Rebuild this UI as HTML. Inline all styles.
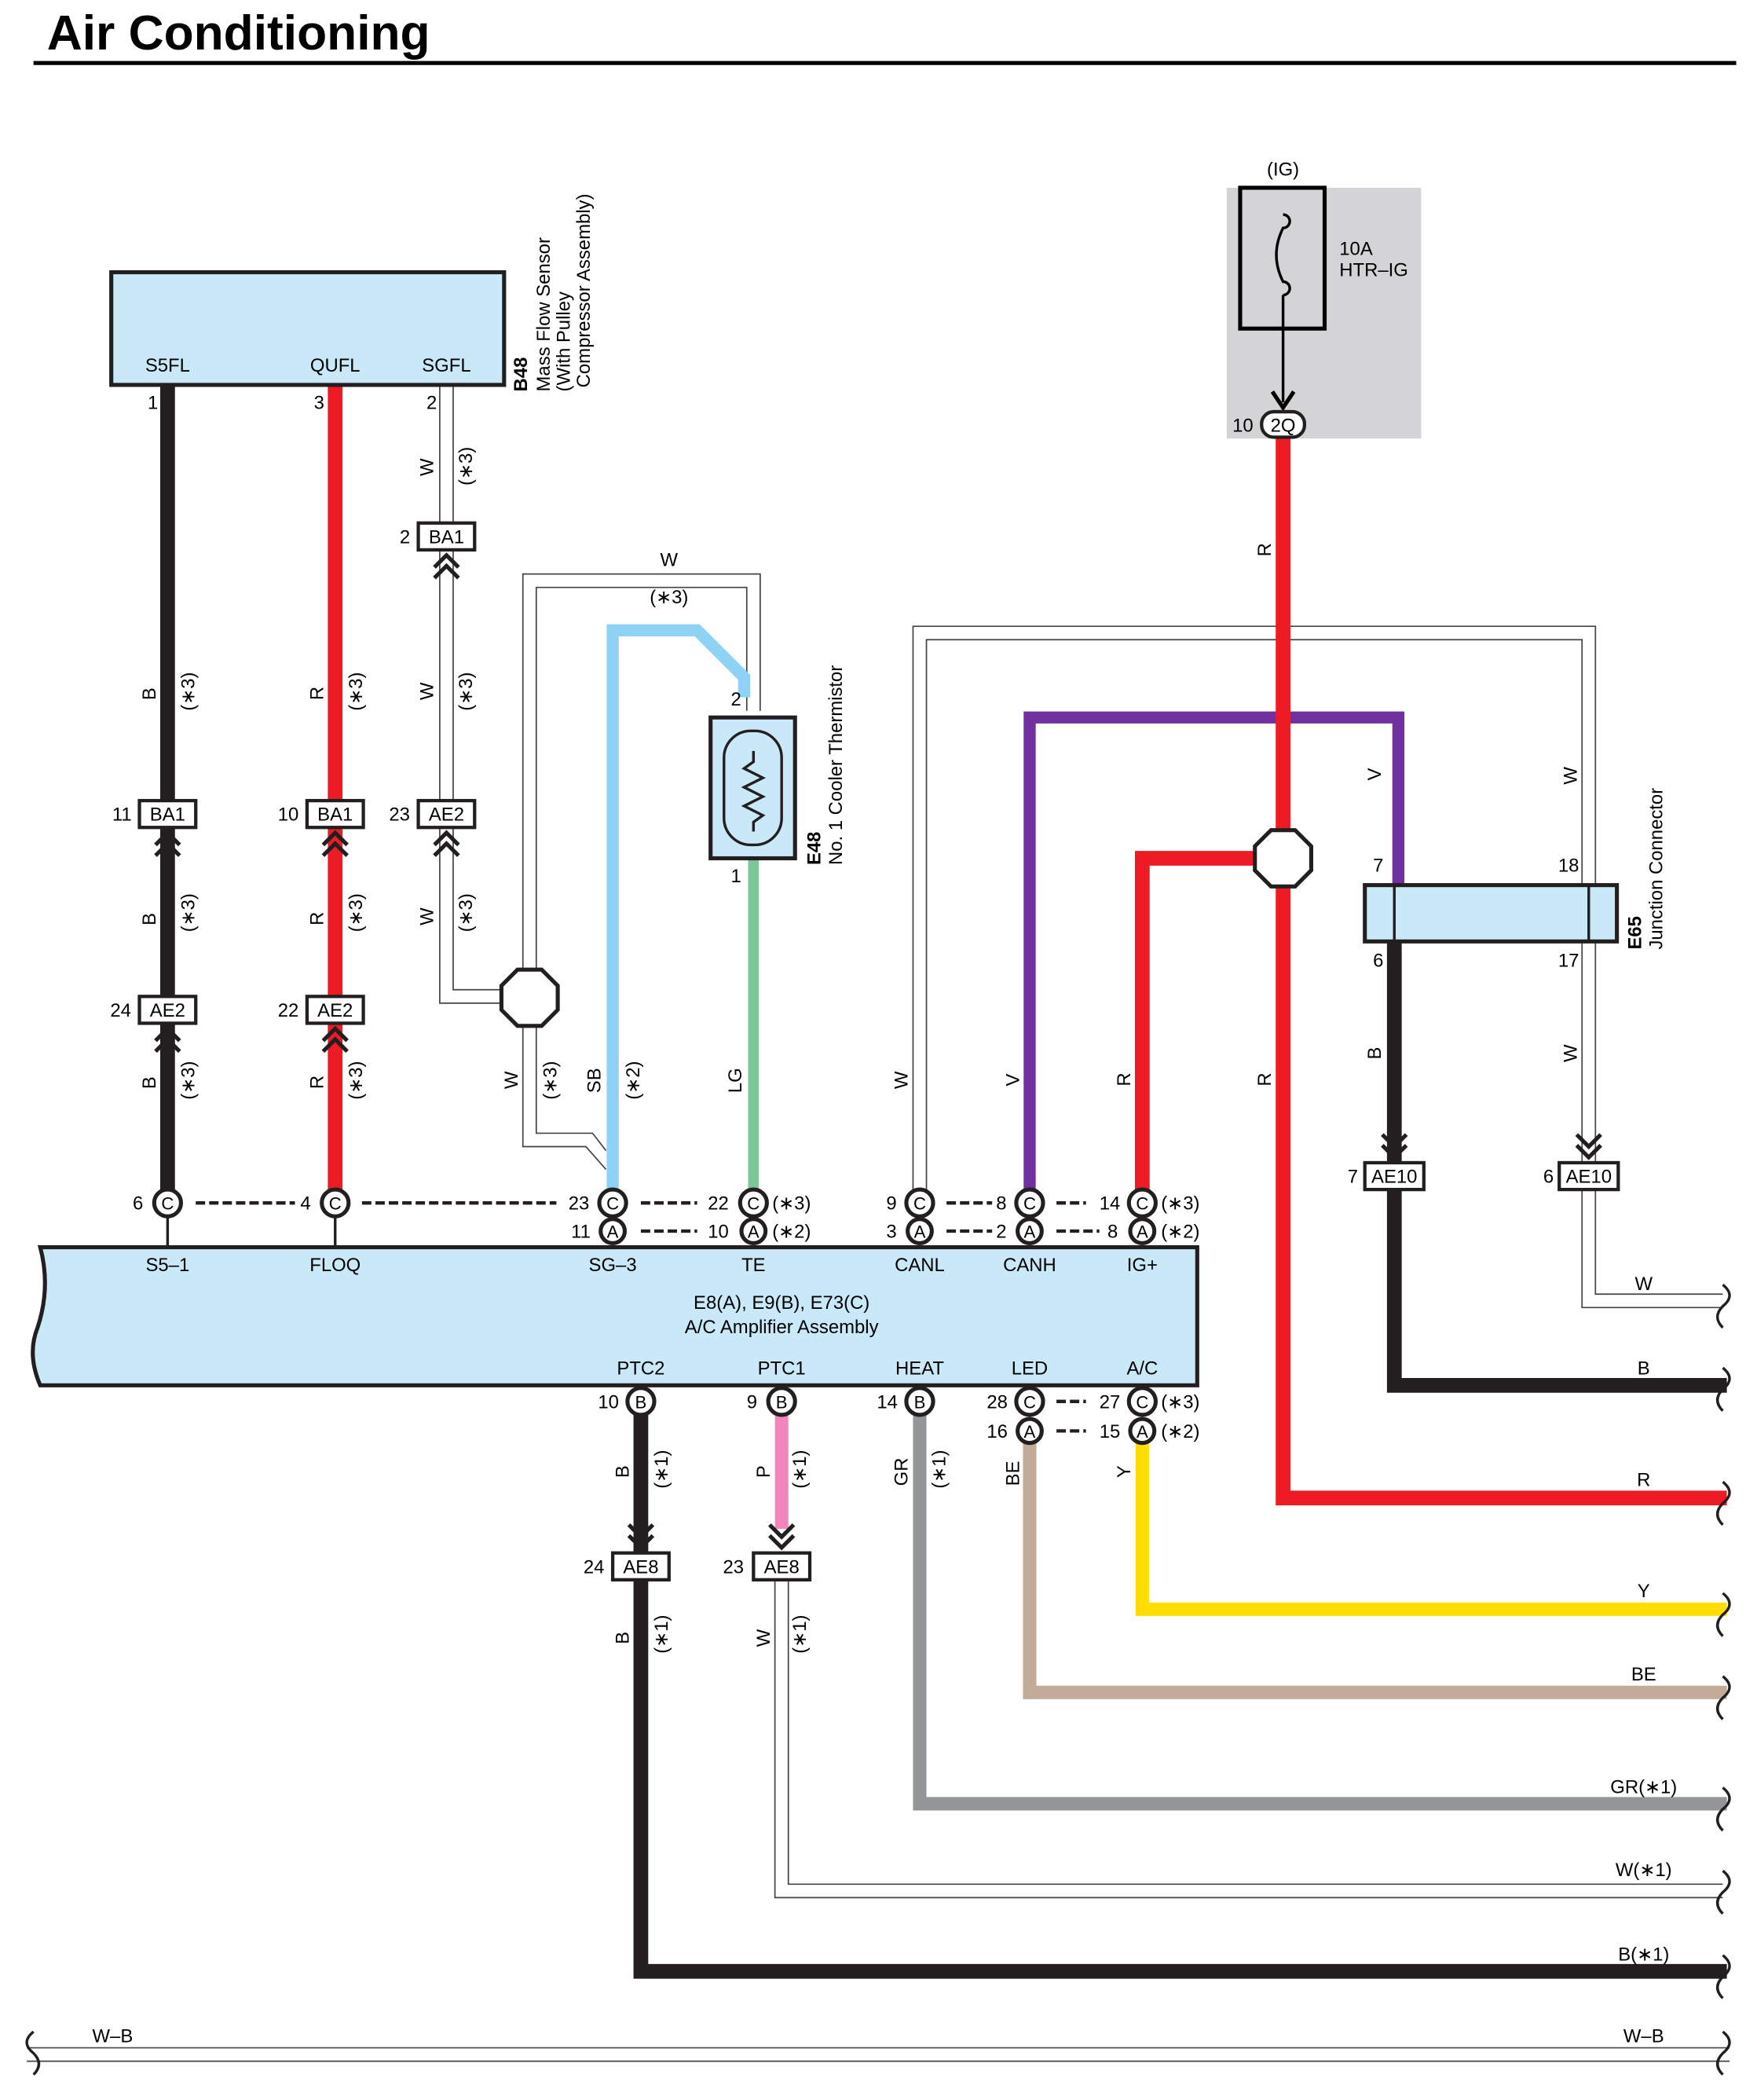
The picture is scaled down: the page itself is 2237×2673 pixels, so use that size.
<!DOCTYPE html>
<html><head><meta charset="utf-8"><style>html,body{margin:0;padding:0;background:#fff}svg{display:block}</style></head><body>
<svg xmlns="http://www.w3.org/2000/svg" width="2237" height="2673" viewBox="0 0 1310.5 1565.9" font-family="Liberation Sans, sans-serif">
<rect width="1311" height="1566" fill="#fff"/>
<text x="35" y="37" font-size="36.5" font-weight="bold">Air Conditioning</text>
<line x1="25" y1="47" x2="1295" y2="47" stroke="#000" stroke-width="3"/>

<rect x="915" y="140" width="145" height="187" fill="#d4d4d6"/>
<text x="957" y="131" font-size="14" text-anchor="middle">(IG)</text>
<rect x="925" y="140" width="63" height="105" fill="none" stroke="#000" stroke-width="3"/>
<path d="M957 160 a5 5 0 1 1 0 10 q-10 20 0 40 a5 5 0 1 1 0 10" fill="none" stroke="#000" stroke-width="2"/>
<line x1="957" y1="220" x2="957" y2="300" stroke="#000" stroke-width="2"/>
<path d="M949 292 L957 304 L965 292" fill="none" stroke="#000" stroke-width="3"/>
<text x="999" y="190" font-size="14">10A</text>
<text x="999" y="206" font-size="14">HTR–IG</text>

<g fill="none" stroke-linejoin="miter">
<g stroke="#444" stroke-width="1">
<polyline points="328,287 328,748 375,748"/><polyline points="338,287 338,738 375,738"/>
<polyline points="390,728 390,428 567,428 567,530"/><polyline points="400,728 400,438 557,438 557,530"/>
<polyline points="390,762 390,855 437,855 452,872"/><polyline points="400,762 400,845 442,845 452,858"/>
<polyline points="681,890 681,467 1190,467 1190,660"/><polyline points="691,890 691,477 1180,477 1180,660"/>
<polyline points="1180,702 1180,868"/><polyline points="1190,702 1190,868"/>
<polyline points="1180,888 1180,975 1285,975"/><polyline points="1190,888 1190,965 1285,965"/>
<polyline points="578,1178 578,1415 1285,1415"/><polyline points="588,1178 588,1405 1285,1405"/>
<polyline points="20,1527 1290,1527"/><polyline points="20,1537 1290,1537"/>
</g>
<line x1="125" y1="287" x2="125" y2="890" stroke="#231f20" stroke-width="11"/>
<line x1="250" y1="287" x2="250" y2="890" stroke="#ed1c24" stroke-width="11"/>
<polyline points="457,890 457,470 520,470 555,505 555,520" stroke="#8ed3f5" stroke-width="9"/>
<line x1="562" y1="640" x2="562" y2="890" stroke="#7cc69a" stroke-width="8"/>
<polyline points="768,890 768,535 1043,535 1043,662" stroke="#7030a0" stroke-width="9"/>
<polyline points="957,325 957,1117 1288,1117" stroke="#ed1c24" stroke-width="11"/>
<polyline points="957,640 852,640 852,890" stroke="#ed1c24" stroke-width="11"/>
<polyline points="1040,700 1040,1033 1288,1033" stroke="#231f20" stroke-width="11"/>
<polyline points="478,1052 478,1470 1288,1470" stroke="#231f20" stroke-width="11"/>
<line x1="583" y1="1052" x2="583" y2="1140" stroke="#f086ba" stroke-width="10"/>
<polyline points="686,1052 686,1345 1288,1345" stroke="#939598" stroke-width="10"/>
<polyline points="768,1074 768,1262 1288,1262" stroke="#c2ab98" stroke-width="10"/>
<polyline points="852,1074 852,1200 1288,1200" stroke="#ffdd00" stroke-width="10"/>
</g>

<g fill="none" stroke="#231f20" stroke-width="2">
<path d="M1285 958 q10 8 0 16 q-8 8 0 16"/>
<path d="M1285 1020 q10 8 0 16 q-8 8 0 16"/>
<path d="M1285 1105 q10 8 0 16 q-8 8 0 16"/>
<path d="M1285 1188 q10 8 0 16 q-8 8 0 16"/>
<path d="M1285 1250 q10 8 0 16 q-8 8 0 16"/>
<path d="M1285 1333 q10 8 0 16 q-8 8 0 16"/>
<path d="M1285 1395 q10 8 0 16 q-8 8 0 16"/>
<path d="M1285 1458 q10 8 0 16 q-8 8 0 16"/>
<path d="M1285 1515 q10 8 0 16 q-8 8 0 16"/>
<path d="M25 1515 q-10 8 0 16 q8 8 0 16"/>
</g>

<rect x="83" y="203" width="293" height="84" fill="#c9e9f9" stroke="#231f20" stroke-width="3"/>
<g font-size="14" text-anchor="middle">
<text x="125" y="277">S5FL</text><text x="250" y="277">QUFL</text><text x="333" y="277">SGFL</text>
<text x="114" y="305">1</text><text x="238" y="305">3</text><text x="322" y="305">2</text>
</g>
<g font-size="14">
<text transform="translate(393,292) rotate(-90)" font-weight="bold">B48</text>
<text transform="translate(410,292) rotate(-90)">Mass Flow Sensor</text>
<text transform="translate(425,292) rotate(-90)">(With Pulley</text>
<text transform="translate(440,289) rotate(-90)">Compressor Assembly)</text>
</g>

<rect x="530" y="535" width="63" height="105" fill="#c9e9f9" stroke="#231f20" stroke-width="3"/>
<rect x="540" y="545" width="43" height="85" rx="20" fill="none" stroke="#231f20" stroke-width="2"/>
<polyline points="562,560 562,568 555,573 569,580 555,587 569,594 555,601 569,608 562,613 562,620" fill="none" stroke="#231f20" stroke-width="2"/>
<text x="549" y="526" font-size="14" text-anchor="middle">2</text>
<text x="549" y="658" font-size="14" text-anchor="middle">1</text>
<text transform="translate(612,645) rotate(-90)" font-size="14" font-weight="bold">E48</text>
<text transform="translate(628,645) rotate(-90)" font-size="14">No. 1 Cooler Thermistor</text>

<rect x="1018" y="660" width="188" height="42" fill="#c9e9f9" stroke="#231f20" stroke-width="3"/>
<line x1="1040" y1="660" x2="1040" y2="702" stroke="#231f20" stroke-width="2"/>
<line x1="1185" y1="660" x2="1185" y2="702" stroke="#231f20" stroke-width="2"/>
<g font-size="14" text-anchor="middle"><text x="1028" y="650">7</text><text x="1170" y="650">18</text><text x="1028" y="721">6</text><text x="1170" y="721">17</text></g>
<text transform="translate(1224,708) rotate(-90)" font-size="14" font-weight="bold">E65</text>
<text transform="translate(1240,708) rotate(-90)" font-size="14">Junction Connector</text>

<polygon points="386,723 404,723 416,735 416,753 404,765 386,765 374,753 374,735" fill="#fff" stroke="#231f20" stroke-width="3"/>
<polygon points="948,619 966,619 978,631 978,649 966,661 948,661 936,649 936,631" fill="#fff" stroke="#231f20" stroke-width="3"/>

<g font-size="14" text-anchor="middle">
<g fill="#fff" stroke="#231f20" stroke-width="2.5">
<rect x="312" y="390" width="42" height="20"/>
<rect x="104" y="597" width="42" height="20"/><rect x="229" y="597" width="42" height="20"/><rect x="312" y="597" width="42" height="20"/>
<rect x="104" y="743" width="42" height="20"/><rect x="229" y="743" width="42" height="20"/>
<rect x="1018" y="867" width="44" height="20"/><rect x="1163" y="867" width="44" height="20"/>
<rect x="457" y="1158" width="42" height="20"/><rect x="562" y="1158" width="42" height="20"/>
<rect x="941" y="307" width="32" height="19" rx="9"/>
</g>
<text x="333" y="405">BA1</text><text x="302" y="405">2</text>
<text x="125" y="612">BA1</text><text x="91" y="612">11</text>
<text x="250" y="612">BA1</text><text x="215" y="612">10</text>
<text x="333" y="612">AE2</text><text x="298" y="612">23</text>
<text x="125" y="758">AE2</text><text x="90" y="758">24</text>
<text x="250" y="758">AE2</text><text x="215" y="758">22</text>
<text x="1040" y="882">AE10</text><text x="1009" y="882">7</text>
<text x="1185" y="882">AE10</text><text x="1155" y="882">6</text>
<text x="478" y="1173">AE8</text><text x="443" y="1173">24</text>
<text x="583" y="1173">AE8</text><text x="547" y="1173">23</text>
<text x="957" y="322">2Q</text><text x="927" y="322">10</text>
</g>
<g fill="none" stroke="#231f20" stroke-width="3">
<path d="M116 630 L125 621 L134 630 M116 638 L125 629 L134 638"/>
<path d="M241 630 L250 621 L259 630 M241 638 L250 629 L259 638"/>
<path d="M324 630 L333 621 L342 630 M324 638 L333 629 L342 638"/>
<path d="M324 423 L333 414 L342 423 M324 431 L333 422 L342 431"/>
<path d="M116 776 L125 767 L134 776 M116 784 L125 775 L134 784"/>
<path d="M241 776 L250 767 L259 776 M241 784 L250 775 L259 784"/>
<path d="M1031 846 L1040 855 L1049 846 M1031 854 L1040 863 L1049 854"/>
<path d="M1176 846 L1185 855 L1194 846 M1176 854 L1185 863 L1194 854"/>
<path d="M469 1137 L478 1146 L487 1137 M469 1145 L478 1154 L487 1145"/>
<path d="M574 1137 L583 1146 L592 1137 M574 1145 L583 1154 L592 1145"/>
</g>

<path d="M30 930 L893 930 L893 1033 L30 1033 Q20 1010 28 990 Q38 960 30 930 Z" fill="#c9e9f9" stroke="#231f20" stroke-width="3"/>
<g font-size="14" text-anchor="middle">
<text x="125" y="948">S5–1</text><text x="250" y="948">FLOQ</text><text x="457" y="948">SG–3</text><text x="562" y="948">TE</text>
<text x="686" y="948">CANL</text><text x="768" y="948">CANH</text><text x="852" y="948">IG+</text>
<text x="583" y="976">E8(A), E9(B), E73(C)</text><text x="583" y="994">A/C Amplifier Assembly</text>
<text x="478" y="1025">PTC2</text><text x="583" y="1025">PTC1</text><text x="686" y="1025">HEAT</text><text x="768" y="1025">LED</text><text x="852" y="1025">A/C</text>
</g>
<g stroke="#231f20" stroke-width="2">
<line x1="125" y1="905" x2="125" y2="930"/><line x1="250" y1="905" x2="250" y2="930"/>
</g>
<g stroke="#231f20" stroke-width="2.5" stroke-dasharray="7,3">
<line x1="146" y1="897" x2="220" y2="897"/><line x1="270" y1="897" x2="415" y2="897"/>
<line x1="478" y1="897" x2="520" y2="897"/><line x1="478" y1="918" x2="520" y2="918"/>
<line x1="706" y1="897" x2="740" y2="897"/><line x1="706" y1="918" x2="740" y2="918"/>
<line x1="788" y1="897" x2="810" y2="897"/><line x1="788" y1="918" x2="820" y2="918"/>
<line x1="788" y1="1045" x2="810" y2="1045"/><line x1="788" y1="1067" x2="810" y2="1067"/>
</g>
<g fill="#fff" stroke="#231f20" stroke-width="3">
<circle cx="125" cy="897" r="10"/><circle cx="250" cy="897" r="10"/>
<circle cx="457" cy="897" r="10"/><circle cx="457" cy="918" r="9"/>
<circle cx="562" cy="897" r="10"/><circle cx="562" cy="918" r="9"/>
<circle cx="686" cy="897" r="10"/><circle cx="686" cy="918" r="9"/>
<circle cx="768" cy="897" r="10"/><circle cx="768" cy="918" r="9"/>
<circle cx="852" cy="897" r="10"/><circle cx="852" cy="918" r="9"/>
<circle cx="478" cy="1045" r="10"/><circle cx="583" cy="1045" r="10"/><circle cx="686" cy="1045" r="10"/>
<circle cx="768" cy="1045" r="10"/><circle cx="768" cy="1067" r="9"/>
<circle cx="852" cy="1045" r="10"/><circle cx="852" cy="1067" r="9"/>
</g>
<g font-size="13" text-anchor="middle">
<text x="125" y="902">C</text><text x="250" y="902">C</text><text x="457" y="902">C</text><text x="457" y="923">A</text>
<text x="562" y="902">C</text><text x="562" y="923">A</text><text x="686" y="902">C</text><text x="686" y="923">A</text>
<text x="768" y="902">C</text><text x="768" y="923">A</text><text x="852" y="902">C</text><text x="852" y="923">A</text>
<text x="478" y="1050">B</text><text x="583" y="1050">B</text><text x="686" y="1050">B</text>
<text x="768" y="1050">C</text><text x="768" y="1072">A</text><text x="852" y="1050">C</text><text x="852" y="1072">A</text>
</g>
<g font-size="14">
<text x="99" y="902">6</text><text x="224" y="902">4</text><text x="424" y="902">23</text><text x="426" y="923">11</text>
<text x="528" y="902">22</text><text x="528" y="923">10</text><text x="866" y="902">(∗3)</text>
<text x="576" y="902">(∗3)</text><text x="576" y="923">(∗2)</text><text x="866" y="923">(∗2)</text>
<text x="661" y="902">9</text><text x="661" y="923">3</text><text x="743" y="902">8</text><text x="743" y="923">2</text>
<text x="820" y="902">14</text><text x="826" y="923">8</text>
<text x="446" y="1050">10</text><text x="557" y="1050">9</text><text x="654" y="1050">14</text>
<text x="736" y="1050">28</text><text x="736" y="1072">16</text><text x="820" y="1050">27</text><text x="820" y="1072">15</text>
<text x="866" y="1050">(∗3)</text><text x="866" y="1072">(∗2)</text>
</g>

<g font-size="14">
<text transform="translate(323,355) rotate(-90)">W</text><text transform="translate(352,362) rotate(-90)">(∗3)</text>
<text transform="translate(116,522) rotate(-90)">B</text><text transform="translate(145,530) rotate(-90)">(∗3)</text>
<text transform="translate(241,522) rotate(-90)">R</text><text transform="translate(270,530) rotate(-90)">(∗3)</text>
<text transform="translate(323,522) rotate(-90)">W</text><text transform="translate(352,530) rotate(-90)">(∗3)</text>
<text transform="translate(116,690) rotate(-90)">B</text><text transform="translate(145,695) rotate(-90)">(∗3)</text>
<text transform="translate(241,690) rotate(-90)">R</text><text transform="translate(270,695) rotate(-90)">(∗3)</text>
<text transform="translate(323,690) rotate(-90)">W</text><text transform="translate(352,695) rotate(-90)">(∗3)</text>
<text transform="translate(116,812) rotate(-90)">B</text><text transform="translate(145,820) rotate(-90)">(∗3)</text>
<text transform="translate(241,812) rotate(-90)">R</text><text transform="translate(270,820) rotate(-90)">(∗3)</text>
<text transform="translate(386,812) rotate(-90)">W</text><text transform="translate(415,820) rotate(-90)">(∗3)</text>
<text transform="translate(448,815) rotate(-90)">SB</text><text transform="translate(477,820) rotate(-90)">(∗2)</text>
<text transform="translate(553,815) rotate(-90)">LG</text>
<text transform="translate(677,812) rotate(-90)">W</text>
<text transform="translate(760,810) rotate(-90)">V</text>
<text transform="translate(843,810) rotate(-90)">R</text>
<text transform="translate(948,810) rotate(-90)">R</text>
<text transform="translate(948,415) rotate(-90)">R</text>
<text transform="translate(1030,582) rotate(-90)">V</text>
<text transform="translate(1176,585) rotate(-90)">W</text>
<text transform="translate(1030,790) rotate(-90)">B</text>
<text transform="translate(1176,792) rotate(-90)">W</text>
<text transform="translate(469,1102) rotate(-90)">B</text><text transform="translate(498,1110) rotate(-90)">(∗1)</text>
<text transform="translate(574,1102) rotate(-90)">P</text><text transform="translate(601,1110) rotate(-90)">(∗1)</text>
<text transform="translate(677,1108) rotate(-90)">GR</text><text transform="translate(705,1110) rotate(-90)">(∗1)</text>
<text transform="translate(760,1108) rotate(-90)">BE</text>
<text transform="translate(843,1102) rotate(-90)">Y</text>
<text transform="translate(469,1226) rotate(-90)">B</text><text transform="translate(498,1233) rotate(-90)">(∗1)</text>
<text transform="translate(574,1228) rotate(-90)">W</text><text transform="translate(601,1233) rotate(-90)">(∗1)</text>
</g>
<g font-size="14" text-anchor="middle">
<text x="499" y="422">W</text><text x="499" y="450">(∗3)</text>
<text x="1226" y="962">W</text><text x="1226" y="1025">B</text><text x="1226" y="1108">R</text><text x="1226" y="1191">Y</text>
<text x="1226" y="1253">BE</text><text x="1226" y="1337">GR(∗1)</text><text x="1226" y="1399">W(∗1)</text><text x="1226" y="1462">B(∗1)</text>
<text x="84" y="1523">W–B</text><text x="1226" y="1523">W–B</text>
</g>
</svg>
</body></html>
